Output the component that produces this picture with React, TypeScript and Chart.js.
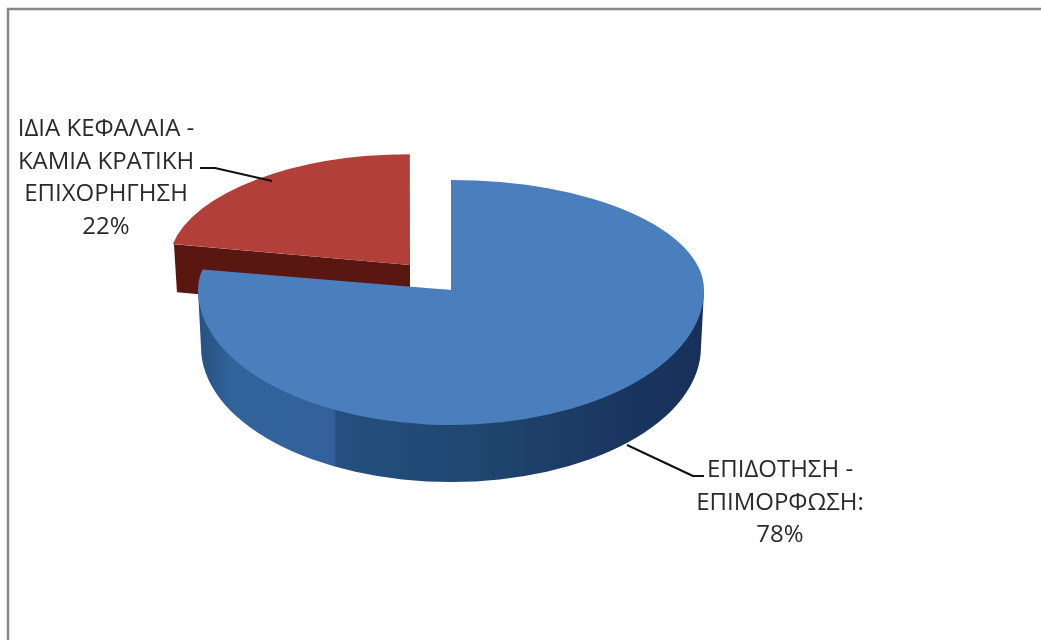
import React, { useEffect, useRef } from "react";
import { Chart, registerables } from "chart.js";

Chart.register(...registerables);

const categories = ["ΕΠΙΔΟΤΗΣΗ - ΕΠΙΜΟΡΦΩΣΗ", "ΙΔΙΑ ΚΕΦΑΛΑΙΑ - ΚΑΜΙΑ ΚΡΑΤΙΚΗ ΕΠΙΧΟΡΗΓΗΣΗ"];
const shares = [78, 22];
const sliceColors = ["#4a7ebc", "#b23f3a"];
const blueLabelLines = ["ΕΠΙΔΟΤΗΣΗ -", "ΕΠΙΜΟΡΦΩΣΗ:"];
const redLabelLines = ["ΙΔΙΑ ΚΕΦΑΛΑΙΑ -", "ΚΑΜΙΑ ΚΡΑΤΙΚΗ", "ΕΠΙΧΟΡΗΓΗΣΗ"];

const FONT = '24px "Open Sans", "Noto Sans", sans-serif';
const TEXT = "#2a2a2a";
const CY = 290; // screen y of the pie's centre
const K_TOP = 110 / 253; // vertical squash behind the centre
const K_BOTTOM = 135 / 253; // vertical squash in front of the centre
const DEPTH = 57;
const RED_DEPTH = 48;
const RED_X = 0.95;
const RED_SHIFT = [3, -2];

const pie3d = {
  id: "pie3d",
  beforeDraw(chart: any) {
    const { ctx, width, height } = chart;
    ctx.save();
    ctx.fillStyle = "#ffffff";
    ctx.fillRect(0, 0, width, height);
    ctx.strokeStyle = "#878787";
    ctx.lineWidth = 2.5;
    ctx.beginPath();
    ctx.moveTo(8, height + 2);
    ctx.lineTo(8, 9);
    ctx.lineTo(width + 2, 9);
    ctx.stroke();
    ctx.restore();
  },
  beforeDatasetDraw(chart: any) {
    const { ctx } = chart;
    const [blue, red] = chart.getDatasetMeta(0).data as any[];
    const cx = blue.x;
    const flatCy = blue.y;
    const R = blue.outerRadius;

    // exploded slice: apex in flat space comes from the arc's own offset
    const half = (red.startAngle + red.endAngle) / 2;
    const off = (red.options.offset || 0) / 4;
    const ax = cx + Math.cos(half) * off;
    const ay = flatCy + Math.sin(half) * off;
    const sy = (y: number) => CY + (y - flatCy) * K_TOP + RED_SHIFT[1];
    const sx = (x: number) => x + RED_SHIFT[0];

    // red cut face
    const lx = ax + Math.cos(red.startAngle) * R * RED_X;
    const ly = ay + Math.sin(red.startAngle) * R;
    ctx.save();
    ctx.fillStyle = "#5a1712";
    ctx.beginPath();
    ctx.moveTo(sx(ax), sy(ay));
    ctx.lineTo(sx(lx), sy(ly));
    ctx.lineTo(sx(lx) + 3, sy(ly) + RED_DEPTH);
    ctx.lineTo(sx(ax), sy(ay) + RED_DEPTH);
    ctx.closePath();
    ctx.fill();
    ctx.restore();

    // red top
    ctx.save();
    ctx.translate(RED_SHIFT[0], CY - flatCy * K_TOP + RED_SHIFT[1]);
    ctx.scale(1, K_TOP);
    ctx.translate(ax, ay);
    ctx.scale(RED_X, 1);
    ctx.translate(-ax, -ay);
    red.draw(ctx);
    ctx.restore();

    // blue side wall
    const grad = ctx.createLinearGradient(cx - R, 0, cx + R, 0);
    const stop = (x: number) => (x - (cx - R)) / (2 * R);
    grad.addColorStop(0, "#27517f");
    grad.addColorStop(stop(235), "#32649c");
    grad.addColorStop(stop(334), "#33609a");
    grad.addColorStop(stop(336), "#24507f");
    grad.addColorStop(stop(480), "#1f4670");
    grad.addColorStop(stop(620), "#1a3660");
    grad.addColorStop(1, "#17305a");
    ctx.save();
    ctx.fillStyle = grad;
    ctx.beginPath();
    ctx.moveTo(cx + R, CY);
    ctx.lineTo(cx + R - 3, CY + DEPTH);
    ctx.ellipse(cx, CY + DEPTH, R - 3, 135, 0, 0, Math.PI);
    ctx.lineTo(cx - R, CY);
    ctx.closePath();
    ctx.fill();
    ctx.restore();

    // blue top, squashed differently behind and in front of the centre
    ctx.save();
    ctx.beginPath();
    ctx.rect(0, CY - 0.5, chart.width, chart.height);
    ctx.clip();
    ctx.translate(0, CY - flatCy * K_BOTTOM);
    ctx.scale(1, K_BOTTOM);
    blue.draw(ctx);
    ctx.restore();

    ctx.save();
    ctx.beginPath();
    ctx.rect(0, 0, chart.width, CY);
    ctx.clip();
    ctx.translate(0, CY - flatCy * K_TOP);
    ctx.scale(1, K_TOP);
    blue.draw(ctx);
    ctx.restore();

    return false;
  },
  afterDatasetsDraw(chart: any) {
    const { ctx } = chart;
    const values = chart.data.datasets[0].data as number[];
    const total = values.reduce((a, b) => a + b, 0);
    const pct = (v: number) => `${Math.round((v / total) * 100)}%`;

    ctx.save();
    ctx.strokeStyle = "#111111";
    ctx.lineWidth = 2;
    ctx.lineJoin = "round";
    ctx.beginPath();
    ctx.moveTo(200, 168);
    ctx.lineTo(215, 168);
    ctx.lineTo(272, 181);
    ctx.moveTo(627, 445);
    ctx.lineTo(693, 476);
    ctx.lineTo(704, 476);
    ctx.stroke();

    ctx.font = FONT;
    ctx.fillStyle = TEXT;
    ctx.textAlign = "center";
    ctx.textBaseline = "middle";
    const draw = (lines: string[], x: number, y: number, step: number) =>
      lines.forEach((l, i) => ctx.fillText(l, x, y + i * step));
    draw([...redLabelLines, pct(values[1])], 106, 129, 32.7);
    draw([...blueLabelLines, pct(values[0])], 780, 470, 32.7);
    ctx.restore();
  },
};

export default function App() {
  const ref = useRef<HTMLCanvasElement>(null);
  useEffect(() => {
    const chart = new Chart(ref.current as HTMLCanvasElement, {
      type: "pie",
      data: {
        labels: categories,
        datasets: [
          {
            data: shares,
            backgroundColor: sliceColors,
            borderWidth: 0,
            offset: [0, 276],
            radius: 253,
          } as any,
        ],
      },
      options: {
        animation: false,
        responsive: false,
        events: [],
        layout: { autoPadding: false, padding: { left: 0, right: 139, top: 0, bottom: 0 } },
        plugins: { legend: { display: false }, tooltip: { enabled: false }, title: { display: false } },
      },
      plugins: [pie3d],
    } as any);
    return () => chart.destroy();
  }, []);
  return (
    <div style={{ position: "absolute", left: 0, top: 0, width: 1041, height: 640, background: "#fff" }}>
      <canvas ref={ref} width={1041} height={640} style={{ display: "block" }} />
    </div>
  );
}
